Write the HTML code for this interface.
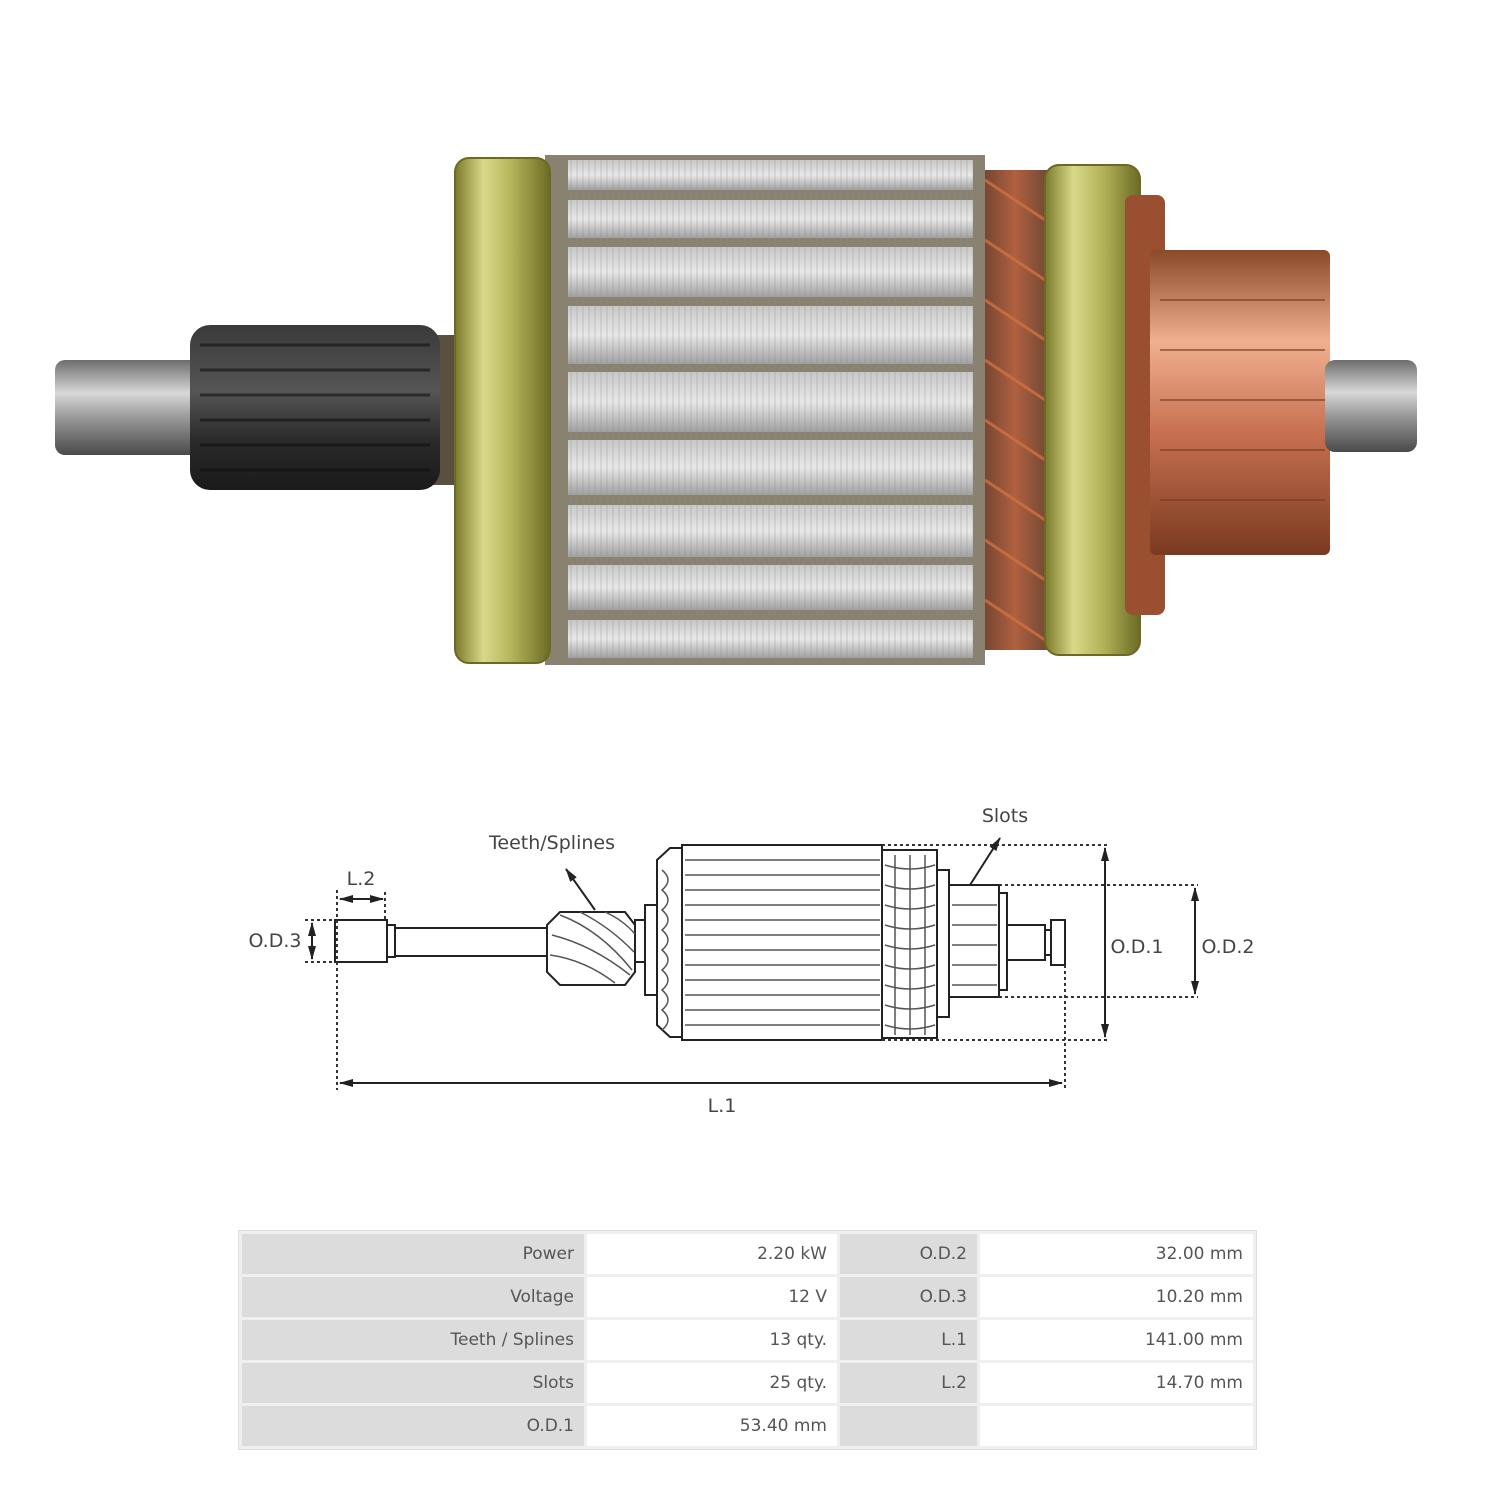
<!DOCTYPE html>
<html><head><style>
html,body{margin:0;padding:0;background:#fff;width:1500px;height:1500px;overflow:hidden}
svg{position:absolute;left:0;top:0}
.t{font-family:"DejaVu Sans","Liberation Sans",sans-serif;fill:#444;font-size:19px}
table{position:absolute;left:238px;top:1230px;border-collapse:separate;border-spacing:3px;background:#efefef;border:1px solid #ddd;font-family:"DejaVu Sans","Liberation Sans",sans-serif;font-size:17px;color:#555}
td{height:40px;padding:0 10px;text-align:right}
td.g{background:#dcdcdc}
td.w{background:#fff}
</style></head><body>
<svg width="1500" height="1500" viewBox="0 0 1500 1500">
<defs>
<linearGradient id="steel" x1="0" y1="0" x2="0" y2="1">
<stop offset="0" stop-color="#6d6d6d"/><stop offset=".35" stop-color="#d8d8d8"/><stop offset=".6" stop-color="#9a9a9a"/><stop offset="1" stop-color="#4a4a4a"/></linearGradient>
<linearGradient id="pin" x1="0" y1="0" x2="0" y2="1">
<stop offset="0" stop-color="#3a3a3a"/><stop offset=".4" stop-color="#555"/><stop offset=".7" stop-color="#2a2a2a"/><stop offset="1" stop-color="#1a1a1a"/></linearGradient>
<linearGradient id="gold" x1="0" y1="0" x2="1" y2="0">
<stop offset="0" stop-color="#7a7a2a"/><stop offset=".3" stop-color="#d9d98a"/><stop offset=".6" stop-color="#b4b45a"/><stop offset="1" stop-color="#6b6b25"/></linearGradient>
<linearGradient id="cop" x1="0" y1="0" x2="0" y2="1">
<stop offset="0" stop-color="#8a4a2a"/><stop offset=".3" stop-color="#f0b090"/><stop offset=".6" stop-color="#c77050"/><stop offset="1" stop-color="#7a3a20"/></linearGradient>
<linearGradient id="wind" x1="0" y1="0" x2="1" y2="0">
<stop offset="0" stop-color="#5a3a2a"/><stop offset=".5" stop-color="#b06040"/><stop offset="1" stop-color="#5a4030"/></linearGradient>
<linearGradient id="bar" x1="0" y1="0" x2="0" y2="1">
<stop offset="0" stop-color="#c8c8c8"/><stop offset=".5" stop-color="#e8e8e8"/><stop offset="1" stop-color="#a0a0a0"/></linearGradient>
<pattern id="lam" width="6" height="10" patternUnits="userSpaceOnUse"><line x1="1" y1="0" x2="1" y2="10" stroke="#888" stroke-opacity=".35" stroke-width="1"/></pattern>
<marker id="ah" markerUnits="userSpaceOnUse" markerWidth="14" markerHeight="10" refX="13" refY="5" orient="auto"><path d="M0,1 L14,5 L0,9 z" fill="#222"/></marker>
<marker id="ahs" markerUnits="userSpaceOnUse" markerWidth="14" markerHeight="10" refX="1" refY="5" orient="auto"><path d="M14,1 L0,5 L14,9 z" fill="#222"/></marker>
</defs>
<rect x="55" y="360" width="145" height="95" rx="10" fill="url(#steel)"/>
<rect x="430" y="335" width="40" height="150" fill="#5a5040"/>
<rect x="190" y="325" width="250" height="165" rx="20" fill="url(#pin)"/>
<g stroke="#111" stroke-width="3" opacity=".6"><line x1="200" y1="345" x2="430" y2="345"/><line x1="200" y1="370" x2="430" y2="370"/><line x1="200" y1="395" x2="430" y2="395"/><line x1="200" y1="420" x2="430" y2="420"/><line x1="200" y1="445" x2="430" y2="445"/><line x1="200" y1="470" x2="430" y2="470"/></g>
<rect x="530" y="170" width="60" height="490" fill="url(#wind)"/>
<rect x="970" y="170" width="90" height="480" fill="url(#wind)"/>
<g stroke="#d07040" stroke-width="3" fill="none" opacity=".8"><path d="M985,180 l60,40 M985,240 l60,40 M985,300 l60,40 M985,360 l60,40 M985,420 l60,40 M985,480 l60,40 M985,540 l60,40 M985,600 l60,40"/></g>
<rect x="545" y="155" width="440" height="510" fill="#8a8270"/>
<g fill="url(#bar)">
<rect x="568" y="160" width="405" height="30"/><rect x="568" y="200" width="405" height="38"/><rect x="568" y="247" width="405" height="50"/>
<rect x="568" y="306" width="405" height="58"/><rect x="568" y="372" width="405" height="60"/><rect x="568" y="440" width="405" height="55"/>
<rect x="568" y="505" width="405" height="52"/><rect x="568" y="565" width="405" height="45"/><rect x="568" y="620" width="405" height="38"/></g>
<rect x="568" y="160" width="405" height="500" fill="url(#lam)"/>
<rect x="455" y="158" width="95" height="505" rx="14" fill="url(#gold)" stroke="#6a6a25" stroke-width="2"/>
<rect x="1045" y="165" width="95" height="490" rx="14" fill="url(#gold)" stroke="#6a6a25" stroke-width="2"/>
<rect x="1125" y="195" width="40" height="420" rx="8" fill="#9a5030"/>
<rect x="1150" y="250" width="180" height="305" rx="6" fill="url(#cop)"/>
<g stroke="#7a3a20" stroke-width="2" opacity=".6"><line x1="1160" y1="300" x2="1325" y2="300"/><line x1="1160" y1="350" x2="1325" y2="350"/><line x1="1160" y1="400" x2="1325" y2="400"/><line x1="1160" y1="450" x2="1325" y2="450"/><line x1="1160" y1="500" x2="1325" y2="500"/></g>
<rect x="1325" y="360" width="92" height="92" rx="10" fill="url(#steel)"/>
<g fill="#fff" stroke="#222" stroke-width="2">
<rect x="335" y="920" width="52" height="42"/>
<rect x="387" y="925" width="8" height="32"/>
<rect x="395" y="928" width="152" height="28"/>
<path d="M547,925 L560,912 L625,912 L635,925 L635,972 L625,985 L560,985 L547,972 z"/>
<rect x="635" y="920" width="10" height="42"/>
<rect x="645" y="905" width="12" height="90"/>
<path d="M657,860 L670,848 L682,848 L682,1037 L670,1037 L657,1025 z"/>
<rect x="682" y="845" width="200" height="195"/>
<rect x="882" y="850" width="55" height="188"/>
<rect x="937" y="870" width="12" height="147"/>
<rect x="949" y="885" width="50" height="112"/>
<rect x="999" y="893" width="8" height="97"/>
<rect x="1007" y="925" width="38" height="35"/>
<rect x="1045" y="930" width="6" height="25"/>
<rect x="1051" y="920" width="14" height="45"/>
</g>
<g stroke="#555" stroke-width="1.5" fill="none">
<path d="M552,935 q40,10 78,40 M550,955 q35,5 65,28 M560,915 q40,15 72,55 M580,912 q30,15 54,40 M605,912 q18,8 30,22"/>
<path d="M685,860 H880 M685,875 H880 M685,890 H880 M685,905 H880 M685,920 H880 M685,935 H880 M685,950 H880 M685,965 H880 M685,980 H880 M685,995 H880 M685,1010 H880 M685,1025 H880"/>
<path d="M662,870 q12,10 0,20 q12,10 0,20 q12,10 0,20 q12,10 0,20 q12,10 0,20 q12,10 0,20 q12,10 0,20 q12,10 0,20"/>
<path d="M885,865 q25,8 50,0 M885,885 q25,8 50,0 M885,905 q25,8 50,0 M885,925 q25,8 50,0 M885,945 q25,8 50,0 M885,965 q25,8 50,0 M885,985 q25,8 50,0 M885,1005 q25,8 50,0 M885,1025 q25,8 50,0"/>
<path d="M895,855 v180 M910,855 v180 M925,855 v180"/>
<path d="M952,905 H997 M952,925 H997 M952,945 H997 M952,965 H997 M952,985 H997"/>
</g>
<g stroke="#333" stroke-width="2" stroke-dasharray="3,3" fill="none">
<path d="M882,845 H1108 M882,1040 H1108 M999,885 H1198 M999,997 H1198 M305,920 H335 M305,962 H335 M337,890 V1090 M385,892 V920 M1065,965 V1090"/>
</g>
<g stroke="#222" stroke-width="2" fill="none">
<line x1="1105" y1="848" x2="1105" y2="1037" marker-end="url(#ah)" marker-start="url(#ahs)"/>
<line x1="1195" y1="888" x2="1195" y2="994" marker-end="url(#ah)" marker-start="url(#ahs)"/>
<line x1="340" y1="1083" x2="1062" y2="1083" marker-end="url(#ah)" marker-start="url(#ahs)"/>
<line x1="340" y1="899" x2="383" y2="899" marker-end="url(#ah)" marker-start="url(#ahs)"/>
<line x1="312" y1="923" x2="312" y2="959" marker-end="url(#ah)" marker-start="url(#ahs)"/>
<line x1="595" y1="910" x2="566" y2="869" marker-end="url(#ah)"/>
<line x1="970" y1="885" x2="1000" y2="838" marker-end="url(#ah)"/>
</g>
<text class="t" x="722" y="1112" text-anchor="middle">L.1</text>
<text class="t" x="1137" y="953" text-anchor="middle">O.D.1</text>
<text class="t" x="1228" y="953" text-anchor="middle">O.D.2</text>
<text class="t" x="275" y="947" text-anchor="middle">O.D.3</text>
<text class="t" x="361" y="885" text-anchor="middle">L.2</text>
<text class="t" x="552" y="849" text-anchor="middle">Teeth/Splines</text>
<text class="t" x="1005" y="822" text-anchor="middle">Slots</text>
</svg>
<table>
<tr><td class="g" style="width:322px">Power</td><td class="w" style="width:230px">2.20 kW</td><td class="g" style="width:117px">O.D.2</td><td class="w" style="width:253px">32.00 mm</td></tr>
<tr><td class="g">Voltage</td><td class="w">12 V</td><td class="g">O.D.3</td><td class="w">10.20 mm</td></tr>
<tr><td class="g">Teeth / Splines</td><td class="w">13 qty.</td><td class="g">L.1</td><td class="w">141.00 mm</td></tr>
<tr><td class="g">Slots</td><td class="w">25 qty.</td><td class="g">L.2</td><td class="w">14.70 mm</td></tr>
<tr><td class="g">O.D.1</td><td class="w">53.40 mm</td><td class="g"></td><td class="w"></td></tr>
</table>
</body></html>
